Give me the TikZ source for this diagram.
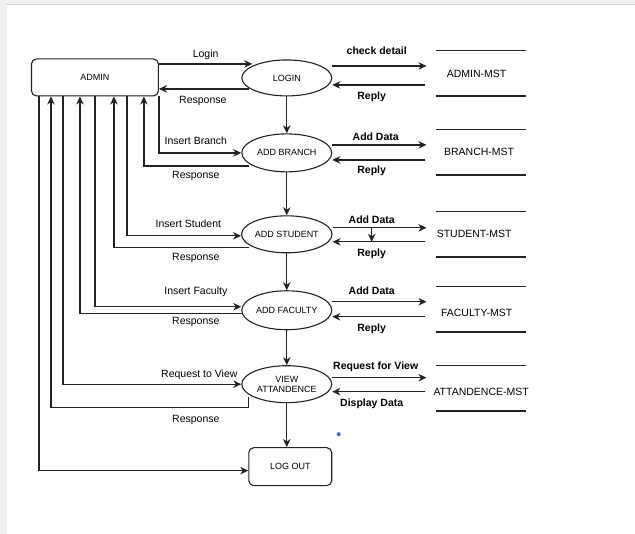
\documentclass[tikz,border=0pt]{standalone}
\usepackage{fontspec}
\setmainfont{Liberation Sans}
\usetikzlibrary{arrows.meta,shapes.geometric}
\definecolor{ink}{HTML}{222222}
\definecolor{dotblue}{HTML}{4A5BD8}
\begin{document}
\begin{tikzpicture}[x=1pt,y=-1pt,
  line/.style={draw=ink, line width=1.3pt},
  arr/.style={line, -{Stealth[length=8pt,width=7.5pt,inset=2.5pt]}},
  proc/.style={draw=ink, line width=1.1pt, rounded corners=5pt, minimum width=127pt,
    minimum height=37pt, inner sep=0pt, font=\fontsize{9}{10}\selectfont},
  bubble/.style={draw=ink, ellipse, line width=1.1pt, minimum width=90pt, minimum height=37pt,
    inner sep=0pt, align=center, font=\fontsize{9}{10}\selectfont},
  store/.style={minimum width=89pt, minimum height=45pt, inner sep=0pt},
  lbl/.style={inner sep=0pt, text height=7.5pt, text depth=0pt, font=\fontsize{10.5}{12}\selectfont},
  blbl/.style={lbl, font=\fontsize{10.5}{12}\selectfont\bfseries},
]
% page frame
\fill[black!6] (0,0) rectangle (635,534);
\draw[black!18, line width=1pt] (6,4.5) -- (635,4.5);
\fill[white] (7,5) rectangle (635,534);
\useasboundingbox (0,0) rectangle (635,534);

% processes
\node[proc] (admin) at (95,77.5) {ADMIN};
\node[bubble, minimum height=36pt] (login) at (287,78) {LOGIN};
\node[bubble, minimum height=38pt] (branch) at (287,153) {ADD BRANCH};
\node[bubble] (student) at (287,234.5) {ADD STUDENT};
\node[bubble, minimum height=39pt] (faculty) at (287,310.5) {ADD FACULTY};
\node[bubble] (view) at (287,384.5) {VIEW\\ATTANDENCE};
\node[proc, minimum width=83pt, minimum height=38pt] (logout) at (290.5,467) {LOG OUT};

% data stores
\node[store, label={[lbl, xshift=-4.5pt, yshift=-0.5pt]center:ADMIN-MST}] (amst) at (481.5,73.5) {};
\node[store, label={[lbl, xshift=-2pt, yshift=0.5pt]center:BRANCH-MST}] (bmst) at (481.5,152.5) {};
\node[store, label={[lbl, xshift=-7pt, yshift=0.5pt]center:STUDENT-MST}] (smst) at (481.5,234.5) {};
\node[store, label={[lbl, xshift=-4.5pt, yshift=-3.5pt]center:FACULTY-MST}] (fmst) at (481.5,309.5) {};
\node[store, label={[lbl, yshift=-3.5pt]center:ATTANDENCE-MST}] (tmst) at (481.5,388.5) {};
\foreach \s in {amst,bmst,smst,fmst,tmst}
  \draw[line] (\s.north west) -- (\s.north east) (\s.south west) -- (\s.south east);

% main flow
\draw[arr] (login) -- (branch);
\draw[arr] (branch) -- (student);
\draw[arr] (student) -- (faculty);
\draw[arr] (faculty) -- (view);
\draw[arr] (view.south) -- (view.south |- logout.north);

% admin <-> processes
\draw[arr] ([yshift=13.5pt]admin.east) -- ([xshift=11pt,yshift=14pt]login.west)
  node[lbl, midway, above=6pt] {Login};
\draw[arr] ([xshift=8pt,yshift=-11pt]login.west) -- ([yshift=-11.5pt]admin.east);
\node[lbl] at (203,100) {Response};

\draw[arr] ([xshift=64pt]admin.south) |- (branch.west);
\node[lbl] at (196,141) {Insert Branch};
\draw[arr] ([xshift=8pt,yshift=-13pt]branch.west) -| ([xshift=49pt]admin.south);
\node[lbl] at (196,175) {Response};

\draw[arr] ([xshift=32pt]admin.south) |- ([yshift=-1.5pt]student.west);
\node[lbl] at (188.5,224) {Insert Student};
\draw[arr] ([xshift=8pt,yshift=-13.5pt]student.west) -| ([xshift=19pt]admin.south);
\node[lbl] at (196,257) {Response};

\draw[arr] (admin.south) |- ([yshift=3.5pt]faculty.west);
\node[lbl] at (196,291) {Insert Faculty};
\draw[arr] ([xshift=1pt,yshift=-3.5pt]faculty.west) -| ([xshift=-15pt]admin.south);
\node[lbl] at (196,321) {Response};

\draw[arr] ([xshift=-32pt]admin.south) |- (view.west);
\node[lbl] at (199.5,374) {Request to View};
\draw[arr] ([xshift=7pt,yshift=-12.5pt]view.west) -- ++(0,11) -| ([xshift=-44pt]admin.south);
\node[lbl] at (196,419.5) {Response};

\draw[arr] ([xshift=-56pt]admin.south) |- ([yshift=-4pt]logout.west);

% processes <-> data stores
\draw[arr] ([yshift=12pt]login.east) -- ([xshift=-10pt,yshift=7.5pt]amst.west);
\node[blbl] at (377,51) {check detail};
\draw[arr] ([xshift=-11pt,yshift=-11.5pt]amst.west) -- ([yshift=-7pt]login.east);
\node[blbl] at (372,95.5) {Reply};

\draw[arr] ([yshift=8pt]branch.east) -- ([xshift=-10pt,yshift=7.5pt]bmst.west);
\node[blbl] at (376,137) {Add Data};
\draw[arr] ([xshift=-11pt,yshift=-7.5pt]bmst.west) -- ([yshift=-7pt]branch.east);
\node[blbl] at (372,170) {Reply};

\draw[arr] ([yshift=6.5pt]student.east) -- ([xshift=-10pt,yshift=6.5pt]smst.west);
\node[blbl] at (372,220) {Add Data};
\draw[arr] ([xshift=-11pt,yshift=-7.5pt]smst.west) -- ([yshift=-7.5pt]student.east);
\node[blbl] at (372,253) {Reply};
\coordinate (tap) at (372,228);
\draw[arr] (tap) -- ++(0,14);

\draw[arr] ([yshift=8.5pt]faculty.east) -- ([xshift=-10pt,yshift=7.5pt]fmst.west);
\node[blbl] at (372,291) {Add Data};
\draw[arr] ([xshift=-11pt,yshift=-7.5pt]fmst.west) -- ([yshift=-6.5pt]faculty.east);
\node[blbl] at (372,328) {Reply};

\draw[arr] ([yshift=6.5pt]view.east) -- ([xshift=-10pt,yshift=10.5pt]tmst.west);
\node[blbl] at (376,366) {Request for View};
\draw[arr] ([xshift=-11pt,yshift=-3.5pt]tmst.west) -- ([yshift=-7.5pt]view.east);
\node[blbl] at (372,403.5) {Display Data};

% stray marker
\fill[dotblue] (339,434.5) circle (2pt);
\end{tikzpicture}
\end{document}
